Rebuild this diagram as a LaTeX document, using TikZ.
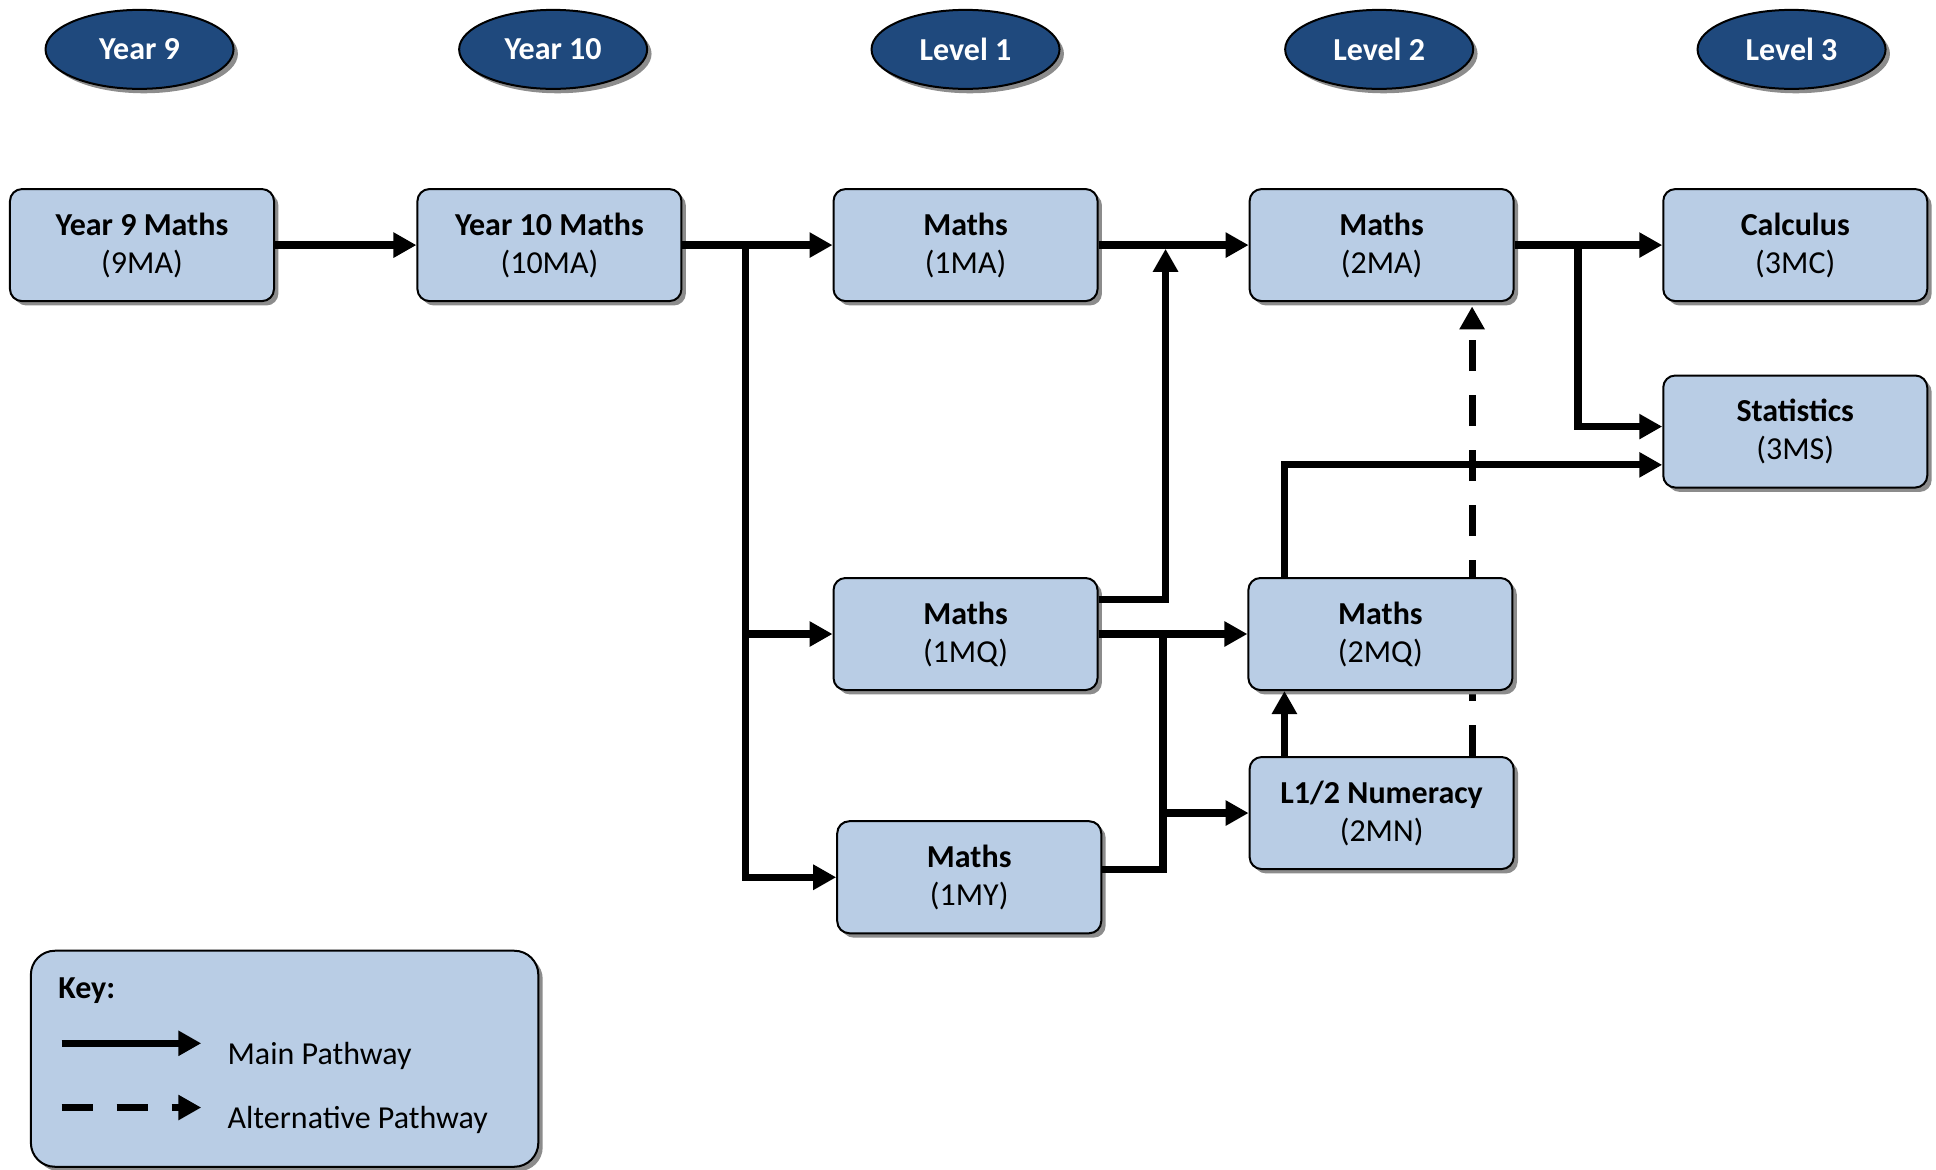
\documentclass[tikz,border=0pt]{standalone}
\usepackage{fontspec}
\setmainfont{Carlito}
\usetikzlibrary{arrows.meta,shadows,calc,shapes.geometric}
\definecolor{boxblue}{RGB}{185,205,229}
\definecolor{ovalblue}{RGB}{31,73,125}
\definecolor{shadowgray}{RGB}{140,140,140}
\pgfdeclarelayer{bg}
\pgfsetlayers{bg,main}
\begin{document}
\begin{tikzpicture}[x=0.6173pt,y=-0.6173pt,
  every node/.style={font=\fontsize{16pt}{19pt}\selectfont},
  shad/.style={drop shadow={shadow xshift=2.2pt,shadow yshift=-2.2pt,fill=shadowgray,opacity=1}},
  course/.style={draw=black,line width=1pt,fill=boxblue,rounded corners=6pt,minimum width=132pt,minimum height=56pt,align=center,inner sep=0pt,shad},
  level/.style={ellipse,draw=black,line width=1pt,fill=ovalblue,text=white,font=\fontsize{16pt}{19pt}\selectfont\bfseries,minimum width=94pt,minimum height=39.5pt,inner sep=0pt,shad},
  keybox/.style={draw=black,line width=1pt,fill=boxblue,rounded corners=12pt,minimum width=253.7pt,minimum height=108pt,inner sep=0pt,shad},
  keytext/.style={anchor=base west,inner sep=0pt},
  conn/.style={line width=3.6pt},
  mainpath/.style={conn,-{Triangle[length=11.5pt,width=12pt]}},
  altpath/.style={mainpath,dash pattern=on 15.5pt off 12pt},
]
\useasboundingbox (0,0) rectangle (1568,947);

% level ovals
\node[level] (y9)  at (113,40)  {Year 9};
\node[level] (y10) at (448,40)  {Year 10};
\node[level] (l1)  at (782,40)  {Level 1};
\node[level] (l2)  at (1117,40) {Level 2};
\node[level] (l3)  at (1451,40) {Level 3};

% courses
\node[course] (n9ma)  at (115,198.5)  {\textbf{Year 9 Maths}\\(9MA)};
\node[course] (n10ma) at (445,198.5)  {\textbf{Year 10 Maths}\\(10MA)};
\node[course] (n1ma)  at (782,198.5)  {\textbf{Maths}\\(1MA)};
\node[course] (n2ma)  at (1119,198.5) {\textbf{Maths}\\(2MA)};
\node[course] (n3mc)  at (1454,198.5) {\textbf{Calculus}\\(3MC)};
\node[course] (n3ms)  at (1454,349.5) {\textbf{Statistics}\\(3MS)};
\node[course] (n1mq)  at (782,513.5)  {\textbf{Maths}\\(1MQ)};
\node[course] (n2mq)  at (1118,513.5) {\textbf{Maths}\\(2MQ)};
\node[course] (n1my)  at (785,710.5)  {\textbf{Maths}\\(1MY)};
\node[course] (n2mn)  at (1119,658.5) {\textbf{L1/2 Numeracy}\\(2MN)};

% alternative (dashed) pathway, behind 2MQ
\coordinate (d0) at ($(n2mn.north west)+(181,0)$);
\coordinate (d1) at ($(d0 |- n2ma.south)+(0,3.5)$);
\begin{pgfonlayer}{bg}
\draw[altpath] (d0) -- (d1);
\end{pgfonlayer}

% main pathways
\draw[mainpath] (n9ma.east) -- (n10ma.west);
\draw[mainpath] (n10ma.east) -- (n1ma.west);
\coordinate (ja) at (604,198.5);
\draw[mainpath] (ja) |- (n1my.west);
\draw[mainpath] (ja |- n1mq.west) -- (n1mq.west);

\draw[mainpath] (n1ma.east) -- (n2ma.west);
\coordinate (jb) at (944,201.5);
\draw[mainpath] ($(n1mq.east)+(0,-28)$) -| (jb);
\draw[mainpath] (n1mq.east) -- (n2mq.west);
\coordinate (jc) at (942,513.5);
\draw[conn] ($(n1my.east)+(0,-6)$) -| (jc);
\draw[mainpath] (jc |- n2mn.west) -- (n2mn.west);

\draw[mainpath] (n2ma.east) -- (n3mc.west);
\coordinate (jd) at (1278,198.5);
\draw[mainpath] (jd) |- ($(n3ms.west)+(0,-4)$);
\draw[mainpath] ($(n2mq.north west)+(30,0)$) |- ($(n3ms.west)+(0,27)$);
\coordinate (je) at ($(n2mn.north west)+(29,0)$);
\draw[mainpath] (je) -- (je |- n2mq.south);

% key
\node[keybox] (key) at (230.5,857.5) {};
\node[keytext,font=\fontsize{16pt}{19pt}\selectfont\bfseries] (keyt) at (47,809) {Key:};
\coordinate (ka) at (50,845);
\coordinate (kb) at (163,845);
\draw[mainpath] (ka) -- (kb);
\coordinate (kc) at (50,897);
\coordinate (kd) at (163,897);
\draw[altpath] (kc) -- (kd);
\node[keytext] (kt1) at (184,862) {Main Pathway};
\node[keytext] (kt2) at (184,914) {Alternative Pathway};
\end{tikzpicture}
\end{document}
